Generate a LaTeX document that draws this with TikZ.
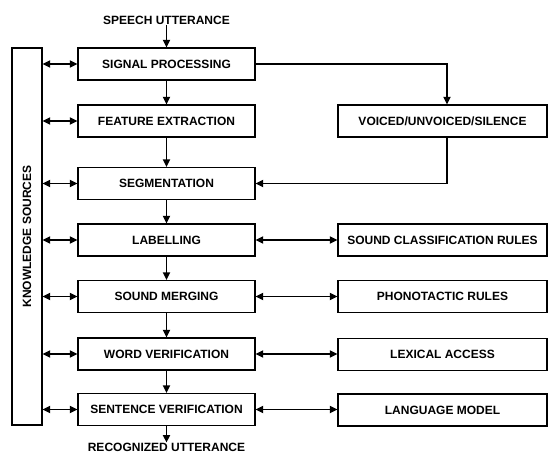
\documentclass[tikz,border=0pt]{standalone}
\usepackage{fontspec}
\setmainfont{Liberation Sans}
\usetikzlibrary{positioning, arrows.meta, calc}

\begin{document}
\begin{tikzpicture}[x=1pt, y=-1pt, >={Triangle[length=7.5pt,width=7pt]}, font=\fontsize{12}{14}\selectfont\bfseries]

\tikzset{
  stage/.style={draw, line width=1.1pt, minimum width=177pt, minimum height=32pt, inner sep=0pt},
  rule/.style={draw, line width=1.1pt, minimum width=209pt, minimum height=32pt, inner sep=0pt},
  link/.style={line width=1.7pt},
}

\useasboundingbox (0,0) rectangle (553,455);

% knowledge sources column
\node[draw, line width=1.1pt, minimum width=30pt, minimum height=377pt, inner sep=0pt] (ks) at (27,236.5) {};
\node[rotate=90] at (ks.center) {KNOWLEDGE SOURCES};

% main chain
\node[stage] (signal) at (166.5,64) {SIGNAL PROCESSING};
\node[stage] (feature) at (166.5,121) {FEATURE EXTRACTION};
\node[stage] (segment) at (166.5,183.5) {SEGMENTATION};
\node[stage] (label) at (166.5,240) {LABELLING};
\node[stage] (merge) at (166.5,296.5) {SOUND MERGING};
\node[stage] (word) at (166.5,354) {WORD VERIFICATION};
\node[stage] (sentence) at (166.5,409.5) {SENTENCE VERIFICATION};

% right column
\node[rule] (voiced) at (442.5,121) {VOICED/UNVOICED/SILENCE};
\node[rule] (classrules) at (442.5,240) {SOUND CLASSIFICATION RULES};
\node[rule] (phono) at (442.5,296.5) {PHONOTACTIC RULES};
\node[rule] (lexical) at (442.5,354.5) {LEXICAL ACCESS};
\node[rule] (langmodel) at (442.5,410) {LANGUAGE MODEL};

\node[inner sep=1pt] (speech) at (166.5,20) {SPEECH UTTERANCE};
\node[inner sep=0.5pt] (recog) at (166.5,447.5) {RECOGNIZED UTTERANCE};

% flow
\draw[link, ->] (speech) -- (signal);
\draw[link, ->] (signal) -- (feature);
\draw[link, ->] (feature) -- (segment);
\draw[link, ->] (segment) -- (label);
\draw[link, ->] (label) -- (merge);
\draw[link, ->] (merge) -- (word);
\draw[link, ->] (word) -- (sentence);
\draw[link, ->] (sentence) -- (recog);

\draw[link, ->] (signal.east) -| ([xshift=4.5pt]voiced.north);
\draw[link, ->] ([xshift=4.5pt]voiced.south) |- (segment.east);

% knowledge exchange
\foreach \s in {signal, feature, segment, label, merge, word, sentence}
  \draw[link, <->] (ks.east |- \s.west) -- (\s.west);

\draw[link, <->] (label) -- (classrules);
\draw[link, <->] (merge) -- (phono);
\draw[link, <->] (word.east) -- (lexical.west |- word.east);
\draw[link, <->] (sentence.east) -- (langmodel.west |- sentence.east);

\end{tikzpicture}
\end{document}
